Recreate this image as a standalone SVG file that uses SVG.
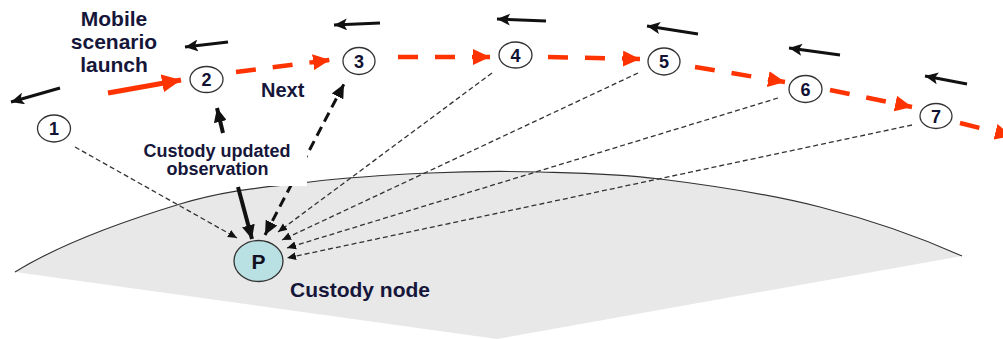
<svg xmlns="http://www.w3.org/2000/svg" width="1003" height="339" viewBox="0 0 1003 339">
  <style>
    .lbl { font-family: "Liberation Sans", Arial, sans-serif; font-weight: bold; fill: #16163a; }
    .num { font-family: "Liberation Sans", Arial, sans-serif; font-weight: bold; font-size: 18px; fill: #111133; text-anchor: middle; }
    .node { fill: #ffffff; stroke: #333333; stroke-width: 1.3; }
    .thin { fill: none; stroke: #333333; stroke-width: 1.3; stroke-dasharray: 5 3; marker-end: url(#hThin); }
    .red { fill: none; stroke: #ff3300; stroke-width: 4.5; stroke-dasharray: 20 17; marker-end: url(#hRed); }
    .move { fill: none; stroke: #111111; stroke-width: 3; marker-end: url(#hMove); }
  </style>
  <defs>
    <marker id="hThin" markerUnits="userSpaceOnUse" markerWidth="10" markerHeight="9" refX="9" refY="4.5" orient="auto">
      <path d="M0,0.5 L9,4.5 L0,8.5 Z" fill="#111111"/>
    </marker>
    <marker id="hRed" markerUnits="userSpaceOnUse" markerWidth="18" markerHeight="16" refX="17" refY="8" orient="auto">
      <path d="M0,0 L17,8 L0,16 Z" fill="#ff3300"/>
    </marker>
    <marker id="hLaunch" markerUnits="userSpaceOnUse" markerWidth="20" markerHeight="18" refX="19" refY="9" orient="auto">
      <path d="M0,0 L19,9 L0,18 Z" fill="#ff3300"/>
    </marker>
    <marker id="hMove" markerUnits="userSpaceOnUse" markerWidth="14" markerHeight="12" refX="13" refY="6" orient="auto">
      <path d="M0,0 L13,6 L0,12 L3,6 Z" fill="#111111"/>
    </marker>
    <marker id="hBlack" markerUnits="userSpaceOnUse" markerWidth="15" markerHeight="13" refX="14" refY="6.5" orient="auto-start-reverse">
      <path d="M0,0 L14,6.5 L0,13 Z" fill="#111111"/>
    </marker>
  </defs>

  <!-- custody region: curved ground segment -->
  <g id="region">
    <path d="M15,272 C65,241 130.8,219 180,204 C229.2,189 268.3,187.2 310,182 C351.7,176.8 391.7,174.7 430,173 C468.3,171.3 501.7,171 540,172 C578.3,173 613.3,173.2 660,179 C706.7,184.8 769.7,194.2 820,207 C870.3,219.8 917,235.8 962,256 L497,339 Z" fill="#e8e8e8"/>
    <path d="M15,272 C65,241 130.8,219 180,204 C229.2,189 268.3,187.2 310,182 C351.7,176.8 391.7,174.7 430,173 C468.3,171.3 501.7,171 540,172 C578.3,173 613.3,173.2 660,179 C706.7,184.8 769.7,194.2 820,207 C870.3,219.8 917,235.8 962,256" fill="none" stroke="#333333" stroke-width="1.2"/>
  </g>

  <!-- connectors -->
  <g id="connectors">
    <!-- observation links to custody node -->
    <path class="thin" d="M75,147 L237,238"/>
    <path class="thin" d="M492,73 L278,232"/>
    <path class="thin" d="M638,73 L282,240"/>
    <path class="thin" d="M778,98 L287,248"/>
    <path class="thin" d="M912,125 L287,258"/>
    <!-- custody exchange with node 3 -->
    <path d="M265,235 L344,84" fill="none" stroke="#111111" stroke-width="3" stroke-dasharray="10 6" marker-start="url(#hBlack)" marker-end="url(#hBlack)"/>
    <!-- mobile path -->
    <path d="M108,93 L181,80" fill="none" stroke="#ff3300" stroke-width="5" marker-end="url(#hLaunch)"/>
    <path class="red" d="M236,72 L330,60"/>
    <path class="red" d="M398,57 L490,57"/>
    <path class="red" d="M548,57 L640,59"/>
    <path class="red" d="M695,67 L785,82"/>
    <path class="red" d="M830,90 L912,107"/>
    <path class="red" d="M960,123 L1012,136"/>
    <!-- motion direction -->
    <path class="move" d="M60,88 L11,102"/>
    <path class="move" d="M228,42 L185,47"/>
    <path class="move" d="M380,23 L334,25"/>
    <path class="move" d="M546,21 L497,19"/>
    <path class="move" d="M698,34 L647,26"/>
    <path class="move" d="M840,55 L789,48"/>
    <path class="move" d="M967,84 L925,76"/>
    <!-- update towards node 2 -->
    <path d="M223,133 L217,108" fill="none" stroke="#111111" stroke-width="4" marker-end="url(#hBlack)"/>
  </g>

  <!-- label backdrop and text -->
  <g id="label-custody-update">
    <rect x="146" y="138" width="161" height="48" fill="#ffffff"/>
    <text class="lbl" font-size="18" text-anchor="middle" x="217" y="157">Custody updated</text>
    <text class="lbl" font-size="18" text-anchor="middle" x="217.5" y="175">observation</text>
    <path d="M238,187 L252,239" fill="none" stroke="#111111" stroke-width="4" marker-end="url(#hBlack)"/>
  </g>

  <g id="label-launch">
    <text class="lbl" font-size="21" text-anchor="middle" x="114" y="26">Mobile</text>
    <text class="lbl" font-size="21" text-anchor="middle" x="114" y="48.5">scenario</text>
    <text class="lbl" font-size="21" text-anchor="middle" x="114" y="71.5">launch</text>
  </g>
  <text id="label-next" class="lbl" font-size="20" x="261" y="97">Next</text>

  <!-- mobile positions -->
  <g id="n1"><ellipse class="node" cx="54" cy="128.5" rx="16.5" ry="13.5"/><text class="num" x="54" y="135">1</text></g>
  <g id="n2"><ellipse class="node" cx="206.5" cy="79.5" rx="16.5" ry="13"/><text class="num" x="206.5" y="86">2</text></g>
  <g id="n3"><ellipse class="node" cx="359" cy="61" rx="16" ry="13.5"/><text class="num" x="359" y="67.5">3</text></g>
  <g id="n4"><ellipse class="node" cx="515.5" cy="55" rx="16.5" ry="13"/><text class="num" x="515.5" y="61.5">4</text></g>
  <g id="n5"><ellipse class="node" cx="664" cy="61.5" rx="16" ry="13.5"/><text class="num" x="664" y="68">5</text></g>
  <g id="n6"><ellipse class="node" cx="805.5" cy="89" rx="16.5" ry="13.5"/><text class="num" x="805.5" y="95.5">6</text></g>
  <g id="n7"><ellipse class="node" cx="936" cy="116" rx="16" ry="12.5"/><text class="num" x="936" y="122.5">7</text></g>

  <!-- custody node -->
  <g id="nP">
    <ellipse cx="258.5" cy="261" rx="24.5" ry="20.5" fill="#b9e0e3" stroke="#333333" stroke-width="1.3"/>
    <text x="258.5" y="268.5" text-anchor="middle" font-family="Liberation Sans, Arial, sans-serif" font-weight="bold" font-size="21" fill="#111122">P</text>
  </g>
  <text id="label-custody-node" class="lbl" font-size="21" x="290" y="297">Custody node</text>
</svg>
